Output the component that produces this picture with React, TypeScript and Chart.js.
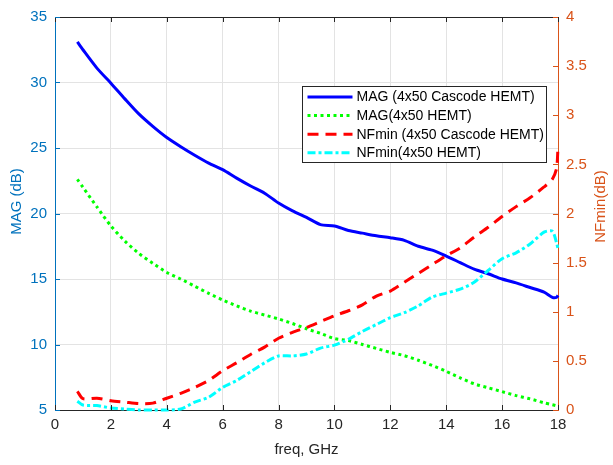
import React, { useEffect, useRef } from "react";
import { Chart, registerables } from "chart.js";

Chart.register(...registerables);

const freqGHz = [0.8, 1.0, 1.5, 2.0, 2.5, 3.0, 3.5, 4.0, 4.5, 5.0, 5.5, 6.0, 6.5, 7.0, 7.5, 8.0, 8.5, 9.0, 9.5, 10.0, 10.5, 11.0, 11.5, 12.0, 12.5, 13.0, 13.5, 14.0, 14.5, 15.0, 15.5, 16.0, 16.5, 17.0, 17.5, 17.8, 17.95, 18.0];

const magCascode = [33.1, 32.5, 31.1, 29.95, 28.75, 27.6, 26.65, 25.8, 25.1, 24.45, 23.85, 23.35, 22.7, 22.1, 21.55, 20.8, 20.2, 19.7, 19.15, 19.05, 18.7, 18.5, 18.3, 18.15, 17.95, 17.5, 17.2, 16.75, 16.25, 15.75, 15.4, 15.0, 14.7, 14.35, 14.0, 13.6, 13.6, 13.75];

const magHemt = [22.6, 22.0, 20.5, 19.05, 17.9, 16.95, 16.2, 15.5, 15.0, 14.45, 13.9, 13.4, 12.95, 12.55, 12.25, 11.95, 11.6, 11.2, 10.85, 10.45, 10.3, 10.0, 9.7, 9.4, 9.15, 8.8, 8.4, 7.95, 7.45, 7.0, 6.7, 6.4, 6.1, 5.85, 5.55, 5.4, 5.32, 5.3];

const nfCascode = [0.19, 0.115, 0.12, 0.095, 0.08, 0.065, 0.07, 0.12, 0.17, 0.23, 0.3, 0.4, 0.48, 0.565, 0.64, 0.73, 0.79, 0.84, 0.9, 0.96, 1.01, 1.07, 1.16, 1.21, 1.3, 1.39, 1.48, 1.57, 1.65, 1.76, 1.86, 1.97, 2.07, 2.16, 2.27, 2.35, 2.46, 2.68];

const nfHemt = [0.09, 0.05, 0.045, 0.02, 0.01, 0.0, 0.0, 0.0, 0.01, 0.08, 0.13, 0.23, 0.3, 0.39, 0.48, 0.55, 0.55, 0.57, 0.63, 0.66, 0.72, 0.8, 0.87, 0.94, 0.99, 1.06, 1.15, 1.19, 1.23, 1.3, 1.42, 1.54, 1.6, 1.69, 1.81, 1.82, 1.7, 1.64];

const seriesLabels = [
  "MAG (4x50 Cascode HEMT)",
  "MAG(4x50 HEMT)",
  "NFmin (4x50 Cascode HEMT)",
  "NFmin(4x50 HEMT)",
];

const leftTitle = "MAG (dB)";
const rightTitle = "NFmin(dB)";
const xTitle = "freq, GHz";

const FONT = "'Liberation Sans', Arial, Helvetica, sans-serif";
const LEFT_COLOR = "#0072BD";
const RIGHT_COLOR = "#D95319";
const AXIS_COLOR = "#262626";
const GRID_COLOR = "#e3e3e3";

const toPts = (ys: number[]) => freqGHz.map((x, i) => ({ x, y: ys[i] }));

const innerTicksPlugin = {
  id: "innerTicks",
  afterDraw(chart: any) {
    const { ctx, chartArea, scales } = chart;
    const len = 5;
    ctx.save();
    ctx.lineWidth = 1;
    ctx.strokeStyle = AXIS_COLOR;
    ctx.beginPath();
    ctx.moveTo(chartArea.left, chartArea.top + 0.5);
    ctx.lineTo(chartArea.right, chartArea.top + 0.5);
    ctx.stroke();
    scales.x.ticks.forEach((t: any) => {
      const px = Math.round(scales.x.getPixelForValue(t.value)) + 0.5;
      ctx.beginPath();
      ctx.moveTo(px, chartArea.bottom);
      ctx.lineTo(px, chartArea.bottom - len);
      ctx.moveTo(px, chartArea.top);
      ctx.lineTo(px, chartArea.top + len);
      ctx.stroke();
    });
    ctx.strokeStyle = LEFT_COLOR;
    scales.y.ticks.forEach((t: any) => {
      const py = Math.round(scales.y.getPixelForValue(t.value)) + 0.5;
      ctx.beginPath();
      ctx.moveTo(chartArea.left, py);
      ctx.lineTo(chartArea.left + len, py);
      ctx.stroke();
    });
    ctx.strokeStyle = RIGHT_COLOR;
    scales.y2.ticks.forEach((t: any) => {
      const py = Math.round(scales.y2.getPixelForValue(t.value)) + 0.5;
      ctx.beginPath();
      ctx.moveTo(chartArea.right, py);
      ctx.lineTo(chartArea.right - len, py);
      ctx.stroke();
    });
    ctx.font = `15px ${FONT}`;
    ctx.textAlign = "center";
    ctx.textBaseline = "middle";
    const midY = (chartArea.top + chartArea.bottom) / 2;
    ctx.fillStyle = LEFT_COLOR;
    ctx.save();
    ctx.translate(17, midY - 12);
    ctx.rotate(-Math.PI / 2);
    ctx.fillText(leftTitle, 0, 0);
    ctx.restore();
    ctx.fillStyle = RIGHT_COLOR;
    ctx.save();
    ctx.translate(601, midY - 7);
    ctx.rotate(-Math.PI / 2);
    ctx.fillText(rightTitle, 0, 0);
    ctx.restore();
    ctx.restore();
  },
};

const legendPlugin = {
  id: "boxLegend",
  afterDraw(chart: any) {
    const { ctx } = chart;
    const left = 302.5;
    const top = 86.5;
    const w = 244;
    const h = 76;
    ctx.save();
    ctx.fillStyle = "#ffffff";
    ctx.fillRect(left, top, w, h);
    ctx.strokeStyle = AXIS_COLOR;
    ctx.lineWidth = 1;
    ctx.strokeRect(left, top, w, h);
    ctx.font = `14px ${FONT}`;
    ctx.textBaseline = "middle";
    chart.data.datasets.forEach((ds: any, i: number) => {
      const cy = top + 10.5 + i * 18.6;
      ctx.strokeStyle = ds.borderColor;
      ctx.lineWidth = ds.borderWidth;
      ctx.setLineDash(ds.borderDash || []);
      ctx.beginPath();
      ctx.moveTo(left + 5, cy);
      ctx.lineTo(left + 50, cy);
      ctx.stroke();
      ctx.setLineDash([]);
      ctx.fillStyle = "#000000";
      ctx.fillText(ds.label, left + 54, cy + 0.5);
    });
    ctx.restore();
  },
};

export default function App() {
  const ref = useRef<HTMLCanvasElement | null>(null);
  useEffect(() => {
    if (!ref.current) return;
    const common = { pointRadius: 0, fill: false, clip: false, tension: 0.25, borderWidth: 3 };
    const chart = new Chart(ref.current, {
      type: "line",
      data: {
        datasets: [
          {
            ...common,
            label: seriesLabels[0],
            data: toPts(magCascode),
            yAxisID: "y",
            borderColor: "#0000ff",
            order: 4,
          },
          {
            ...common,
            label: seriesLabels[1],
            data: toPts(magHemt),
            yAxisID: "y",
            borderColor: "#00ff00",
            borderDash: [3, 3.5],
            order: 3,
          },
          {
            ...common,
            label: seriesLabels[2],
            data: toPts(nfCascode),
            yAxisID: "y2",
            borderColor: "#ff0000",
            borderDash: [11, 7],
            order: 2,
          },
          {
            ...common,
            label: seriesLabels[3],
            data: toPts(nfHemt),
            yAxisID: "y2",
            borderColor: "#00ffff",
            borderDash: [8, 3, 3, 3],
            order: 1,
          },
        ] as any,
      },
      options: {
        animation: false,
        responsive: false,
        devicePixelRatio: 1,
        layout: { padding: { top: 15, left: 0, right: 0, bottom: 0 } },
        plugins: {
          legend: { display: false },
          tooltip: { enabled: false },
        },
        scales: {
          x: {
            type: "linear",
            position: "bottom",
            min: 0,
            max: 18,
            afterFit: (s: any) => {
              s.height = 55;
            },
            ticks: {
              stepSize: 2,
              color: AXIS_COLOR,
              padding: 6,
              font: { family: FONT, size: 15 },
            },
            grid: { color: GRID_COLOR, drawTicks: false },
            border: { color: AXIS_COLOR, width: 1 },
            title: {
              display: true,
              text: xTitle,
              color: AXIS_COLOR,
              font: { family: FONT, size: 15 },
              padding: { top: 0, bottom: 6 },
            },
          },
          y: {
            type: "linear",
            position: "left",
            min: 5,
            max: 35,
            afterFit: (s: any) => {
              s.width = 55;
            },
            ticks: {
              stepSize: 5,
              color: LEFT_COLOR,
              padding: 8,
              font: { family: FONT, size: 15 },
            },
            grid: { color: GRID_COLOR, drawTicks: false },
            border: { color: LEFT_COLOR, width: 1 },
          },
          y2: {
            type: "linear",
            position: "right",
            min: 0,
            max: 4,
            afterFit: (s: any) => {
              s.width = 55;
            },
            ticks: {
              stepSize: 0.5,
              color: RIGHT_COLOR,
              padding: 8,
              font: { family: FONT, size: 15 },
              callback: (v: any) => String(Number(v)),
            },
            grid: { display: false, drawTicks: false },
            border: { color: RIGHT_COLOR, width: 1 },
          },
        },
      } as any,
      plugins: [innerTicksPlugin, legendPlugin],
    });
    return () => chart.destroy();
  }, []);
  return (
    <div style={{ position: "absolute", left: 0, top: 0, width: 613, height: 465, background: "#fff" }}>
      <canvas ref={ref} width={613} height={465} style={{ width: 613, height: 465 }} />
    </div>
  );
}
